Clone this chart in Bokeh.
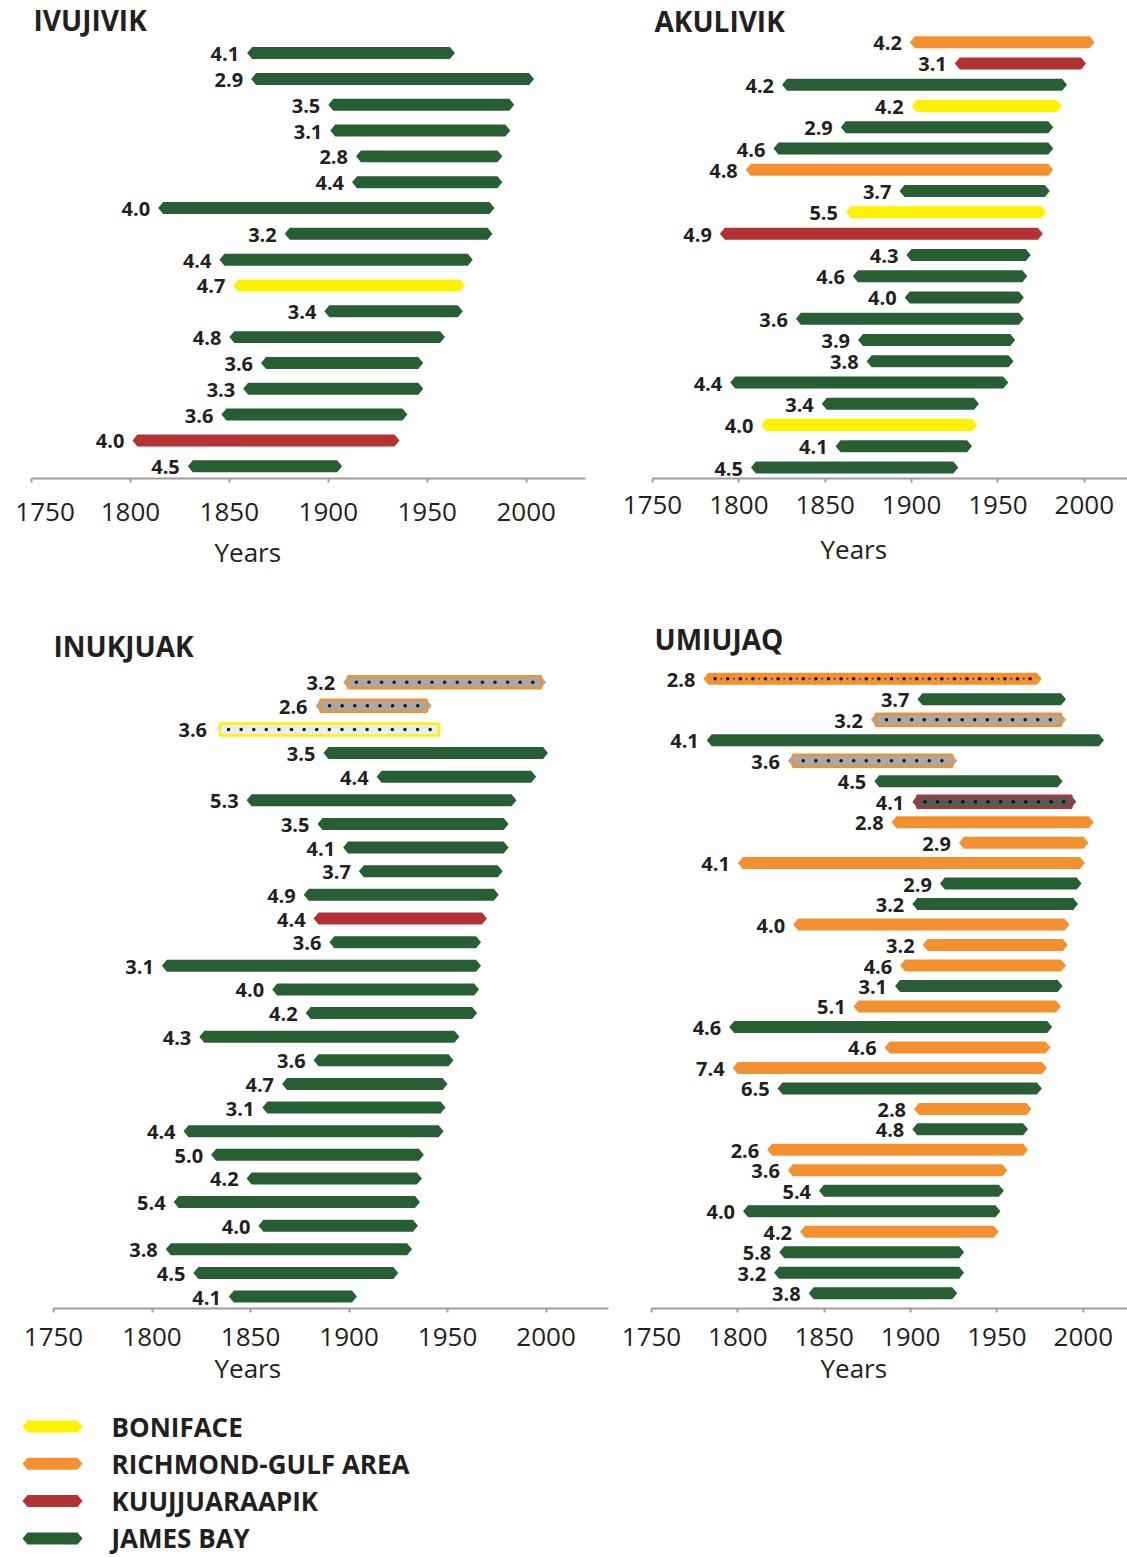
import numpy as np
from bokeh.plotting import figure
from bokeh.models import Range1d, FixedTicker, Title
from bokeh.layouts import column, row
from bokeh.core.properties import value
from bokeh.embed import file_html
from bokeh.resources import INLINE

# ---------------- data ----------------
year_ticks = [1750, 1800, 1850, 1900, 1950, 2000]

ivu_labels = ["4.1", "2.9", "3.5", "3.1", "2.8", "4.4", "4.0", "3.2", "4.4", "4.7", "3.4", "4.8", "3.6", "3.3", "3.6", "4.0", "4.5"]
ivu_start = [1859, 1861, 1900, 1901, 1914, 1912, 1814, 1878, 1845, 1852, 1898, 1850, 1866, 1857, 1846, 1801, 1829]
ivu_end = [1964, 2004, 1994, 1992, 1988, 1988, 1984, 1983, 1973, 1969, 1968, 1959, 1948, 1948, 1940, 1936, 1907]
ivu_region = ["J", "J", "J", "J", "J", "J", "J", "J", "J", "B", "J", "J", "J", "J", "J", "K", "J"]
ivu_style = ["solid"] * 17

aku_labels = ["4.2", "3.1", "4.2", "4.2", "2.9", "4.6", "4.8", "3.7", "5.5", "4.9", "4.3", "4.6", "4.0", "3.6", "3.9", "3.8", "4.4", "3.4", "4.0", "4.1", "4.5"]
aku_start = [1899, 1925, 1825, 1900, 1859, 1820, 1804, 1893, 1862, 1789, 1897, 1866, 1896, 1833, 1869, 1874, 1795, 1848, 1813, 1856, 1807]
aku_end = [2006, 2001, 1990, 1987, 1982, 1982, 1982, 1980, 1978, 1976, 1969, 1967, 1965, 1965, 1960, 1959, 1956, 1939, 1938, 1935, 1927]
aku_region = ["R", "K", "J", "B", "J", "J", "R", "J", "B", "K", "J", "J", "J", "J", "J", "J", "J", "J", "B", "J", "J"]
aku_style = ["solid"] * 21

inu_labels = ["3.2", "2.6", "3.6", "3.5", "4.4", "5.3", "3.5", "4.1", "3.7", "4.9", "4.4", "3.6", "3.1", "4.0", "4.2", "4.3", "3.6", "4.7", "3.1", "4.4", "5.0", "4.2", "5.4", "4.0", "3.8", "4.5", "4.1"]
inu_start = [1897, 1883, 1832, 1887, 1914, 1848, 1884, 1897, 1905, 1877, 1882, 1890, 1805, 1861, 1878, 1824, 1882, 1866, 1856, 1816, 1830, 1848, 1811, 1854, 1807, 1821, 1839]
inu_end = [2000, 1942, 1948, 2001, 1995, 1985, 1981, 1981, 1978, 1976, 1970, 1967, 1967, 1966, 1965, 1956, 1953, 1950, 1949, 1948, 1938, 1937, 1936, 1935, 1932, 1925, 1904]
inu_region = ["R", "R", "B", "J", "J", "J", "J", "J", "J", "J", "K", "J", "J", "J", "J", "J", "J", "J", "J", "J", "J", "J", "J", "J", "J", "J", "J"]
inu_style = ["box", "box", "box"] + ["solid"] * 24

umi_labels = ["2.8", "3.7", "3.2", "4.1", "3.6", "4.5", "4.1", "2.8", "2.9", "4.1", "2.9", "3.2", "4.0", "3.2", "4.6", "3.1", "5.1", "4.6", "4.6", "7.4", "6.5", "2.8", "4.8", "2.6", "3.6", "5.4", "4.0", "4.2", "5.8", "3.2", "3.8"]
umi_start = [1780, 1904, 1877, 1782, 1829, 1879, 1901, 1889, 1928, 1800, 1917, 1901, 1832, 1907, 1894, 1891, 1867, 1795, 1885, 1797, 1823, 1902, 1901, 1817, 1829, 1847, 1803, 1836, 1824, 1821, 1841]
umi_end = [1976, 1990, 1990, 2012, 1927, 1988, 1996, 2006, 2003, 2001, 1999, 1997, 1992, 1991, 1990, 1988, 1987, 1982, 1981, 1979, 1976, 1970, 1968, 1968, 1956, 1954, 1952, 1951, 1931, 1931, 1927]
umi_region = ["R", "J", "R", "J", "R", "J", "K", "R", "R", "R", "J", "J", "R", "R", "R", "J", "R", "J", "R", "R", "J", "R", "J", "R", "R", "J", "J", "R", "J", "J", "J"]
umi_style = ["dots", "solid", "box", "solid", "box", "solid", "box"] + ["solid"] * 24

legend_names = ["BONIFACE", "RICHMOND-GULF AREA", "KUUJJUARAAPIK", "JAMES BAY"]
legend_regions = ["B", "R", "K", "J"]

# ---------------- styles ----------------
REGION_COLORS = {"B": "#fff100", "R": "#f39131", "K": "#b33234", "J": "#285e34"}
BOX_FILL = {"B": "#ececec", "R": "#a8a8a8", "K": "#585858"}
FONT = "Open Sans"
INK = "#231f20"
AXIS_COLOR = "#a39c96"
TIP_PX = 5.0
HALF_PX = 6.0
DOT_GAP = 12.6
DOT_MARGIN = 6.0


def hex_shape(s, e, r, tip, hh):
    return [s, s + tip, e - tip, e, e - tip, s + tip], [r, r - hh, r - hh, r, r + hh, r + hh]


def panel(name, labels, starts, ends, regions, styles, cfg):
    W, H = cfg["W"], cfg["H"]
    bl, br, bb = cfg["bl"], cfg["br"], cfg["bb"]
    fw = W - bl - br
    fh = H - bb
    x0, x1 = 1750, cfg["x1"]
    ppy = fw / (x1 - x0)
    step, off = cfg["step"], cfg["off"]
    y_top = -off / step
    y_bot = (fh - off) / step
    p = figure(width=W, height=H, x_range=Range1d(x0, x1), y_range=Range1d(y_bot, y_top),
               output_backend="svg", toolbar_location=None, y_axis_location=None,
               min_border_left=bl, min_border_right=br, min_border_top=0, min_border_bottom=bb,
               outline_line_color=None, background_fill_color="white", border_fill_color="white")
    p.grid.visible = False

    tip = TIP_PX / ppy
    hh = HALF_PX / step
    rows = list(range(len(labels)))
    xs, ys, fills = [], [], []
    for s, e, r, reg, st in zip(starts, ends, rows, regions, styles):
        hx, hy = hex_shape(s, e, r, tip, hh)
        xs.append(hx)
        ys.append(hy)
        fills.append(BOX_FILL[reg] if st == "box" else REGION_COLORS[reg])
    p.patches(xs, ys, fill_color=fills, line_color=None)

    # boxed (outlined) bars and dotted bars
    bl_, br_, bt_, bb_, bfill, bline = [], [], [], [], [], []
    dx, dy, sx, sy = [], [], [], []
    for s, e, r, reg, st in zip(starts, ends, rows, regions, styles):
        if st == "box":
            bl_.append(s + tip); br_.append(e - tip)
            bt_.append(r - hh); bb_.append(r + hh)
            bfill.append(BOX_FILL[reg]); bline.append(REGION_COLORS[reg])
        if st in ("box", "dots"):
            a = s + tip + DOT_MARGIN / ppy
            b = e - tip - DOT_MARGIN / ppy
            g = DOT_GAP / ppy
            n = int((b - a) // g) + 1
            start = a + ((b - a) - (n - 1) * g) / 2
            pts = start + np.arange(n) * g
            dx.extend(pts); dy.extend([r] * n)
            if st == "dots":
                mids = pts[:-1] + g / 2
                sx.extend(mids); sy.extend([r] * len(mids))
    if bl_:
        p.quad(left=bl_, right=br_, top=bt_, bottom=bb_, fill_color=bfill,
               line_color=bline, line_width=2.5)
    if sx:
        p.scatter(sx, sy, marker="circle", size=2, fill_color="#4a3a30", line_color=None)
    if dx:
        p.scatter(dx, dy, marker="circle", size=3.5, fill_color="#111111", line_color=None)

    # value labels
    p.text(x=starts, y=rows, text=labels, x_offset=-8, y_offset=1, text_align="right",
           text_baseline="middle", text_font=value(FONT), text_font_style="bold",
           text_font_size="20px", text_color=INK)

    # panel name anchored at the frame's top-left corner
    p.text(x=[x0], y=[y_top], text=[name], x_offset=cfg["tx"], y_offset=cfg["ty"],
           text_align="left", text_baseline="alphabetic", text_font=value(FONT),
           text_font_style="bold", text_font_size="28px", text_color=INK)

    ax = p.xaxis[0]
    ax.ticker = FixedTicker(ticks=year_ticks)
    ax.minor_tick_line_color = None
    ax.axis_line_color = AXIS_COLOR
    ax.axis_line_width = 2
    ax.major_tick_line_color = AXIS_COLOR
    ax.major_tick_line_width = 2
    ax.major_tick_in = 0
    ax.major_tick_out = 4
    ax.major_label_standoff = cfg["ls"]
    ax.major_label_text_font = FONT
    ax.major_label_text_font_size = "26px"
    ax.major_label_text_color = INK
    if cfg.get("pad1750"):
        ax.major_label_overrides = {1750: "\u20071750"}

    p.add_layout(Title(text="Years", align="left", offset=cfg["yo"], standoff=cfg["ys"],
                       text_font=FONT, text_font_size="26px", text_font_style="normal",
                       text_color=INK), "below")
    return p


p1 = panel("IVUJIVIK", ivu_labels, ivu_start, ivu_end, ivu_region, ivu_style,
           dict(W=620, H=588, bl=31, br=35, bb=109, x1=2030, step=25.875, off=52.7,
                tx=2, ty=19, ls=10, yo=183, ys=1, pad1750=True))
p2 = panel("AKULIVIK", aku_labels, aku_start, aku_end, aku_region, aku_style,
           dict(W=507, H=588, bl=32, br=0, bb=110, x1=2025.0, step=21.27, off=41.7,
                tx=2, ty=20, ls=13, yo=168, ys=24))
p3 = panel("INUKJUAK", inu_labels, inu_start, inu_end, inu_region, inu_style,
           dict(W=620, H=802, bl=53, br=12, bb=82, x1=2031.7, step=23.63, off=93.7,
                tx=0, ty=57, ls=15, yo=161, ys=-2))
p4 = panel("UMIUJAQ", umi_labels, umi_start, umi_end, umi_region, umi_style,
           dict(W=507, H=802, bl=31, br=0, bb=82, x1=2025.6, step=20.48, off=90.3,
                tx=3, ty=50, ls=15, yo=169, ys=-2))

# ---------------- legend ----------------
LW, LH = 500, 167
l_step, l_off = 37.3, 36.0
lg = figure(width=LW, height=LH, x_range=Range1d(0, LW),
            y_range=Range1d((LH - l_off) / l_step, -l_off / l_step),
            output_backend="svg", toolbar_location=None, x_axis_location=None,
            y_axis_location=None, min_border=0, outline_line_color=None)
lg.grid.visible = False
lrows = list(range(len(legend_names)))
lxs, lys = [], []
for r in lrows:
    hx, hy = hex_shape(22, 82, r, TIP_PX, HALF_PX / l_step)
    lxs.append(hx)
    lys.append(hy)
lg.patches(lxs, lys, fill_color=[REGION_COLORS[k] for k in legend_regions], line_color=None)
lg.text(x=[111] * len(lrows), y=lrows, text=legend_names, y_offset=0, text_align="left",
        text_baseline="middle", text_font=value(FONT), text_font_style="bold",
        text_font_size="26px", text_color=INK)

layout = column(row(p1, p2), row(p3, p4), lg)
open("out.html", "w").write(file_html(layout, INLINE))
